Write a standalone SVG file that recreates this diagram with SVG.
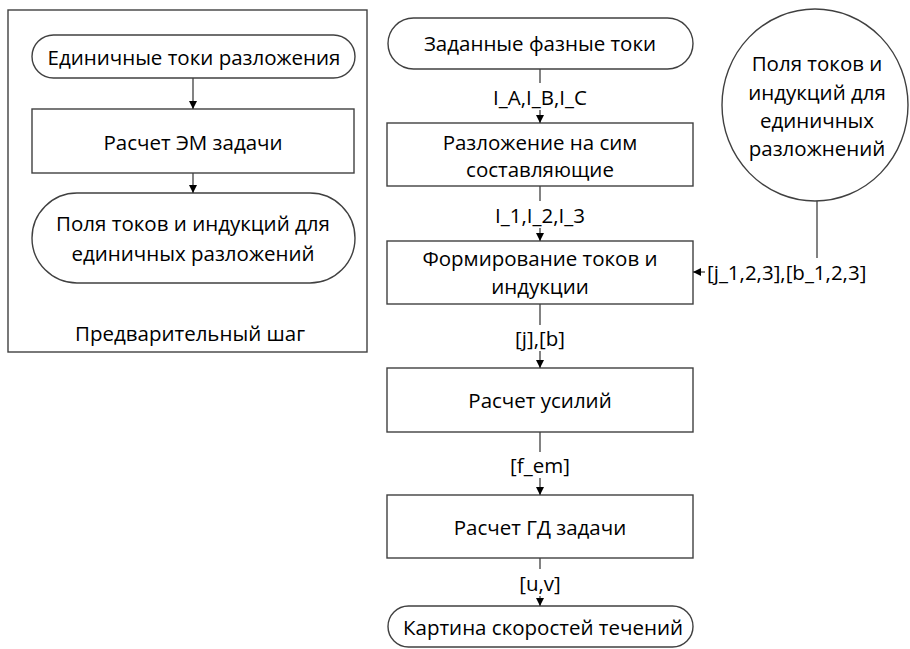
<svg xmlns="http://www.w3.org/2000/svg" width="910" height="649" viewBox="0 0 910 649">
<defs>
<marker id="ah" markerUnits="userSpaceOnUse" markerWidth="8" markerHeight="8" refX="8" refY="4" orient="auto">
<path d="M0,0 L8,4 L0,8 z" fill="#000"/>
</marker>
<style>
.s{fill:#fff;stroke:#404040;stroke-width:1.4}
.c{fill:none;stroke:#404040;stroke-width:1.3}
.a{fill:none;stroke:#404040;stroke-width:1.3;marker-end:url(#ah)}
text{font-family:"Open Sans","Liberation Sans",sans-serif;font-size:20.5px;fill:#000;text-anchor:middle;dominant-baseline:central}
</style>
</defs>
<rect width="910" height="649" fill="#fff"/>
<g id="prelim">
<rect class="s" x="8" y="10" width="359" height="342"/>
<text x="190" y="333">Предварительный шаг</text>
</g>
<g id="unit-currents">
<rect class="s" x="32" y="35" width="323" height="43" rx="21.5"/>
<text x="194" y="57">Единичные токи разложения</text>
</g>
<g id="em-calc">
<rect class="s" x="32" y="109" width="322" height="64"/>
<text x="193" y="142">Расчет ЭМ задачи</text>
</g>
<g id="fields-left">
<rect class="s" x="32" y="193" width="323" height="90" rx="45"/>
<text x="193" y="223">Поля токов и индукций для</text>
<text x="193" y="253">единичных разложений</text>
</g>
<g id="phase-currents">
<rect class="s" x="388" y="18" width="305" height="51" rx="25.5"/>
<text x="540" y="43">Заданные фазные токи</text>
</g>
<g id="decompose">
<rect class="s" x="387" y="123" width="306" height="63"/>
<text x="540" y="142">Разложение на сим</text>
<text x="540" y="169">составляющие</text>
</g>
<g id="forming">
<rect class="s" x="387" y="241" width="306" height="63"/>
<text x="540" y="258">Формирование токов и</text>
<text x="540" y="286">индукции</text>
</g>
<g id="fields-circle">
<ellipse class="s" cx="815" cy="105" rx="93" ry="96"/>
<text x="817" y="63">Поля токов и</text>
<text x="817" y="92">индукций для</text>
<text x="817" y="120">единичных</text>
<text x="817" y="148">разложнений</text>
</g>
<g id="forces">
<rect class="s" x="387" y="368" width="306" height="64"/>
<text x="540" y="400">Расчет усилий</text>
</g>
<g id="hd-calc">
<rect class="s" x="387" y="495" width="306" height="63"/>
<text x="540" y="527">Расчет ГД задачи</text>
</g>
<g id="flow-picture">
<rect class="s" x="388" y="606" width="305" height="41" rx="20.5"/>
<text x="543" y="627">Картина скоростей течений</text>
</g>
<g id="connectors">
<line class="a" x1="193" y1="78" x2="193" y2="109"/>
<line class="a" x1="193" y1="173" x2="193" y2="193"/>
<line class="c" x1="540" y1="69" x2="540" y2="83"/>
<text x="540" y="97">I_A,I_B,I_C</text>
<line class="a" x1="540" y1="110" x2="540" y2="123"/>
<line class="c" x1="540" y1="186" x2="540" y2="201"/>
<text x="540" y="215">I_1,I_2,I_3</text>
<line class="a" x1="540" y1="228" x2="540" y2="241"/>
<line class="c" x1="817" y1="201" x2="817" y2="258"/>
<text x="707" y="272" style="text-anchor:start">[j_1,2,3],[b_1,2,3]</text>
<line class="a" x1="705" y1="272" x2="693" y2="272"/>
<line class="c" x1="540" y1="304" x2="540" y2="325"/>
<text x="540" y="338">[j],[b]</text>
<line class="a" x1="540" y1="351" x2="540" y2="368"/>
<line class="c" x1="540" y1="432" x2="540" y2="452"/>
<text x="540" y="465">[f_em]</text>
<line class="a" x1="540" y1="478" x2="540" y2="495"/>
<line class="c" x1="540" y1="558" x2="540" y2="569"/>
<text x="540" y="583">[u,v]</text>
<line class="a" x1="540" y1="596" x2="540" y2="606"/>
</g>
</svg>
